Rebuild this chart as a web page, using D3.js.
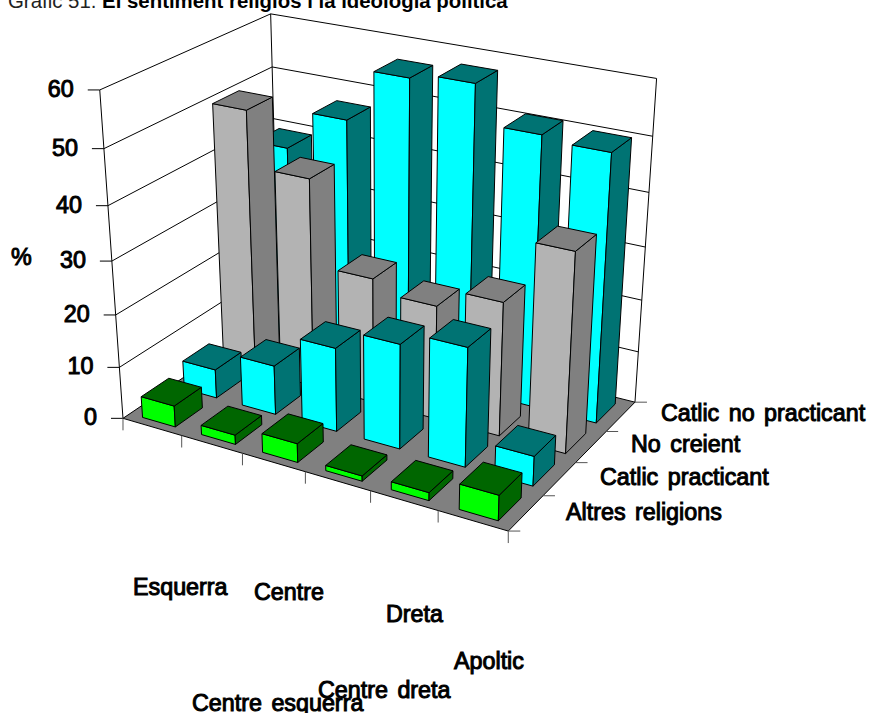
<!DOCTYPE html>
<html><head><meta charset="utf-8">
<script src="https://d3js.org/d3.v7.min.js"></script>
<style>html,body{margin:0;background:#fff;overflow:hidden}svg{display:block}
.lab{font-family:"Liberation Sans",Arial,sans-serif;font-size:23.3px;fill:#000;stroke:#000;stroke-width:1px;word-spacing:3px}
</style></head><body><svg id="c" width="869" height="713"></svg>
<script>
const categories=["Esquerra","Centre esquerra","Centre","Centre dreta","Dreta","Apoltic"];
const seriesNames=["Altres religions","Catlic practicant","No creient","Catlic no practicant"];
const altres=[4.1,1.8,3.6,1,1.5,4.7];
const practicant=[5.6,9.5,16,19.8,22.3,5.6];
const noCreient=[50.2,40,24,21.7,25.3,37.2];
const noPracticant=[39.3,46.8,56.5,57.6,50.8,50];
const seriesValues=[altres,practicant,noCreient,noPracticant];
const yTicks=[0,10,20,30,40,50,60];

// camera calibration: [x 0..1, value, depth 0..1] -> pixel
const calib=[[0,0,0,123,416],[1,0,0,508.5,533],[1,0,1,635,400],[0,0,1,279,316],
[0,60,0,99.7,91],[0,60,1,270.7,13.3],[1,60,1,656.7,79.3],
[0,30,0,111.7,260.7],[1,30,1,645,246.7],[0,50,1,272.3,66]];
function solve(A,b){const n=b.length;const M=A.map((r,i)=>[...r,b[i]]);
 for(let i=0;i<n;i++){let p=i;for(let k=i+1;k<n;k++)if(Math.abs(M[k][i])>Math.abs(M[p][i]))p=k;
  [M[i],M[p]]=[M[p],M[i]];
  for(let k=i+1;k<n;k++){const f=M[k][i]/M[i][i];for(let j=i;j<=n;j++)M[k][j]-=f*M[i][j];}}
 const x=Array(n).fill(0);for(let i=n-1;i>=0;i--){let s=M[i][n];for(let j=i+1;j<n;j++)s-=M[i][j]*x[j];x[i]=s/M[i][i];}return x;}
const yN=d3.scaleLinear().domain([0,60]).range([0,1]);
function fit(){const R=[],B=[];calib.forEach(([X,v,Z,u,w])=>{const Y=yN(v);
 R.push([X,Y,Z,1,0,0,0,0,-u*X,-u*Y,-u*Z]);B.push(u);
 R.push([0,0,0,0,X,Y,Z,1,-w*X,-w*Y,-w*Z]);B.push(w);});
 const A=d3.range(11).map(i=>d3.range(11).map(j=>d3.sum(R,r=>r[i]*r[j])));
 const b=d3.range(11).map(i=>d3.sum(R,(r,k)=>r[i]*B[k]));return solve(A,b);}
const m=fit();
function proj(X,v,Z){const Y=yN(v),d=m[8]*X+m[9]*Y+m[10]*Z+1;
 return [(m[0]*X+m[1]*Y+m[2]*Z+m[3])/d,(m[4]*X+m[5]*Y+m[6]*Z+m[7])/d];}

const x=d3.scaleBand().domain(categories).range([0,1]).paddingInner(.44).paddingOuter(.22).align(.5);
const z=d3.scaleBand().domain(seriesNames).range([0,1]).paddingInner(.35).paddingOuter(.175).align(.45);
const xTickS=d3.scaleLinear().domain([0,categories.length]).range([0,1]);
const zTickS=d3.scaleLinear().domain([0,seriesNames.length]).range([0,1]);

const colors={"Altres religions":["#00FF00","#006600"],"Catlic practicant":["#00FFFF","#007373"],
"No creient":["#B3B3B3","#808080"],"Catlic no practicant":["#00FFFF","#007373"]};
const svg=d3.select("#c");
const line=d3.line();
function poly(g,pts,fill,sw){g.append("path").attr("d",line(pts)+"Z").attr("fill",fill).attr("stroke","#000").attr("stroke-width",sw||1).attr("stroke-linejoin","round");}
function seg(g,a,b,col,sw){g.append("path").attr("d",line([a,b])).attr("fill","none").attr("stroke",col||"#000").attr("stroke-width",sw||1);}

const gw=svg.append("g");
// floor
poly(gw,[proj(0,0,0),proj(1,0,0),proj(1,0,1),proj(0,0,1)],"#808080");
// wall grid
yTicks.filter(t=>t>0).forEach(t=>{
 seg(gw,proj(0,t,0),proj(0,t,1));seg(gw,proj(0,t,1),proj(1,t,1));
});
seg(gw,proj(0,0,0),proj(0,60,0));seg(gw,proj(0,0,1),proj(0,60,1));seg(gw,proj(1,0,1),proj(1,60,1));
// y ticks & labels
yTicks.forEach(t=>{const p=proj(0,t,0);seg(gw,[p[0]-12,p[1]],p);
 gw.append("text").attr("class","lab").attr("x",p[0]-26).attr("y",p[1]+7).attr("text-anchor","end").text(t);});
// x ticks
d3.range(categories.length+1).forEach(i=>{const p=proj(xTickS(i),0,0);seg(gw,p,[p[0],p[1]+12],"#555");});
// z ticks
d3.range(seriesNames.length+1).forEach(i=>{const p=proj(1,0,zTickS(i));seg(gw,p,[p[0]+12,p[1]],"#555");});
// bars back to front
const gb=svg.append("g");
d3.range(seriesNames.length-1,-1,-1).forEach(si=>{const s=seriesNames[si];const [c1,c2]=colors[s];
 const z0=z(s),z1=z0+z.bandwidth();
 categories.forEach((c,ci)=>{const v=seriesValues[si][ci];const x0=x(c),x1=x0+x.bandwidth();
  poly(gb,[proj(x0,0,z0),proj(x1,0,z0),proj(x1,v,z0),proj(x0,v,z0)],c1);
  poly(gb,[proj(x1,0,z0),proj(x1,0,z1),proj(x1,v,z1),proj(x1,v,z0)],c2);
  poly(gb,[proj(x0,v,z0),proj(x1,v,z0),proj(x1,v,z1),proj(x0,v,z1)],c2);
 });
});
// texts
const catLabelAt=[[133,595],[192,711],[254,600],[318,698],[386,622],[454,669]];
categories.forEach((c,i)=>svg.append("text").attr("class","lab").attr("x",catLabelAt[i][0]).attr("y",catLabelAt[i][1]).text(c));
const serLabelAt=[[566,520],[600,485],[631,452],[661,421]];
seriesNames.forEach((c,i)=>svg.append("text").attr("class","lab").attr("x",serLabelAt[i][0]).attr("y",serLabelAt[i][1]).text(c));
svg.append("text").attr("class","lab").attr("x",11).attr("y",265).text("%");
const t=svg.append("text").attr("x",8).attr("y",8).style("font-family","Liberation Sans,Arial,sans-serif").style("font-size","20.4px").attr("fill","#222");
t.append("tspan").text("Gràfic 51. ");
t.append("tspan").attr("font-weight","bold").attr("fill","#000").text("El sentiment religiós i la ideologia política");
</script></body></html>
